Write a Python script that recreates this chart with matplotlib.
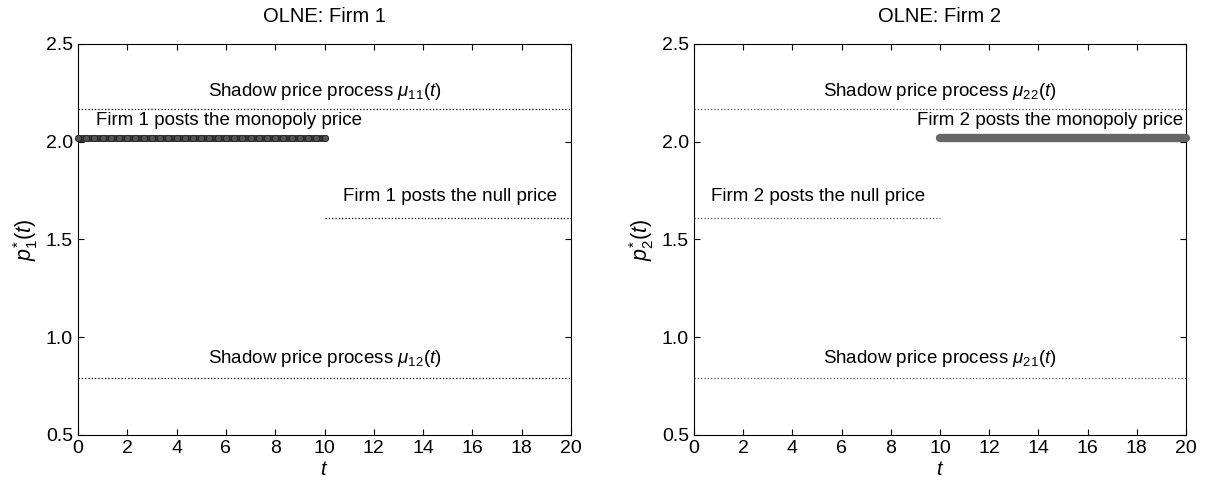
import numpy as np
import matplotlib.pyplot as plt

plt.rcParams['font.family'] = ['Liberation Sans', 'DejaVu Sans']
plt.rcParams['mathtext.fontset'] = 'custom'
plt.rcParams['mathtext.it'] = 'Liberation Sans:italic'
plt.rcParams['mathtext.rm'] = 'Liberation Sans'

# waarden
p_monopoly = 2.02
p_null = 1.61
mu_high = 2.165
mu_low = 0.79
t_grid = np.linspace(0, 10, 31)   # punten van het pad (0..10)

fig = plt.figure(figsize=(12.05, 4.92), dpi=100)
ax1 = fig.add_axes([0.0647, 0.116, 0.4092, 0.795])
ax2 = fig.add_axes([0.5759, 0.116, 0.4083, 0.795])

fs = 13.5
fs_tick = 14

# Firm 1
ax1.plot([0, 20], [mu_high, mu_high], ls=':', color='black', lw=0.9)
ax1.plot([0, 20], [mu_low, mu_low], ls=':', color='black', lw=0.9)
ax1.plot([10, 20], [p_null, p_null], ls=':', color='black', lw=0.9)
ax1.plot(t_grid, [p_monopoly] * len(t_grid), color='#333333', lw=5,
         marker='o', ms=4.5, mfc='#555555', mec='#222222', mew=0.5,
         solid_capstyle='round', zorder=3, clip_on=False)
ax1.text(10, 2.255, r'Shadow price process $\mu_{11}(t)$', ha='center', va='center', fontsize=fs)
ax1.text(0.75, 2.11, 'Firm 1 posts the monopoly price', ha='left', va='center', fontsize=fs)
ax1.text(10.75, 1.72, 'Firm 1 posts the null price', ha='left', va='center', fontsize=fs)
ax1.text(10, 0.89, r'Shadow price process $\mu_{12}(t)$', ha='center', va='center', fontsize=fs)
ax1.set_title('OLNE: Firm 1', fontsize=14.5, pad=16)
ax1.set_ylabel(r'$p_1^{*}(t)$', fontsize=fs + 2)

# Firm 2
ax2.plot([0, 20], [mu_high, mu_high], ls=':', color='#555555', lw=0.9)
ax2.plot([0, 20], [mu_low, mu_low], ls=':', color='#555555', lw=0.9)
ax2.plot([0, 10], [p_null, p_null], ls=':', color='#555555', lw=0.9)
ax2.plot(t_grid + 10, [p_monopoly] * len(t_grid), color='#666666', lw=6,
         solid_capstyle='round', zorder=3, clip_on=False)
ax2.text(10, 2.255, r'Shadow price process $\mu_{22}(t)$', ha='center', va='center', fontsize=fs)
ax2.text(19.9, 2.11, 'Firm 2 posts the monopoly price', ha='right', va='center', fontsize=fs)
ax2.text(0.7, 1.72, 'Firm 2 posts the null price', ha='left', va='center', fontsize=fs)
ax2.text(10, 0.89, r'Shadow price process $\mu_{21}(t)$', ha='center', va='center', fontsize=fs)
ax2.set_title('OLNE: Firm 2', fontsize=14.5, pad=16)
ax2.set_ylabel(r'$p_2^{*}(t)$', fontsize=fs + 2)

for ax in (ax1, ax2):
    ax.set_xlim(0, 20)
    ax.set_ylim(0.5, 2.5)
    ax.set_xticks(range(0, 21, 2))
    ax.set_yticks([0.5, 1.0, 1.5, 2.0, 2.5])
    ax.set_yticklabels(['0.5', '1.0', '1.5', '2.0', '2.5'])
    ax.set_xlabel(r'$t$', fontsize=fs + 1, labelpad=2)
    ax.tick_params(labelsize=fs_tick, direction='in', top=True, right=True, length=4)

fig.savefig('out.png', dpi=100)
